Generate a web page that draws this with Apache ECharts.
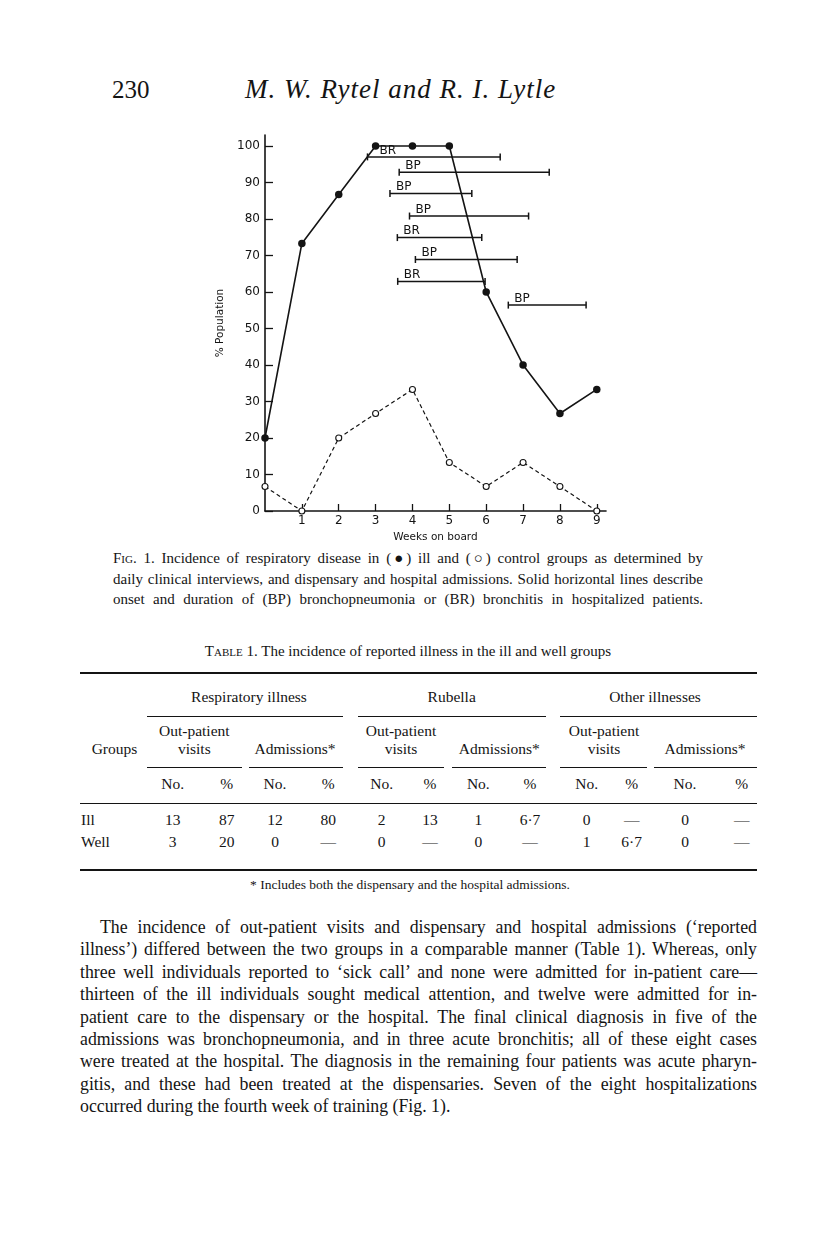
<!DOCTYPE html>
<html>
<head>
<meta charset="utf-8"/>
<title>Fig. 1 - respiratory disease</title>
<script src="https://cdn.jsdelivr.net/npm/echarts@6/dist/echarts.min.js"></script>
<style>
  body { margin: 0; background: #fff; }
  #page { position: relative; width: 816px; height: 1233px; font-family: "Liberation Serif", "DejaVu Serif", serif; color: #141414; overflow: hidden; }
  .abs { position: absolute; white-space: nowrap; }
  .line { position: absolute; text-align: justify; text-align-last: justify; white-space: nowrap; }
  .rule { position: absolute; background: #141414; }
  .sc { font-variant: small-caps; }
  .para { font-size: 17.8px; }
  #main { position: absolute; left: 180px; top: 120px; width: 460px; height: 430px; }
</style>
</head>
<body>
<div id="page">
  <div class="abs" style="left:112px;top:76px;font-size:25px;">230</div>
  <div class="abs" style="left:245px;top:74px;font-size:27px;font-style:italic;letter-spacing:1px;">M. W. Rytel and R. I. Lytle</div>

  <div id="main"></div>

  <!-- caption -->
  <div class="line" style="left:113px;top:550px;width:590px;font-size:15px;"><span class="sc">Fig.</span> 1. Incidence of respiratory disease in (●) ill and (○) control groups as determined by</div>
  <div class="line" style="left:113px;top:571px;width:590px;font-size:15px;">daily clinical interviews, and dispensary and hospital admissions. Solid horizontal lines describe</div>
  <div class="line" style="left:113px;top:591px;width:590px;font-size:15px;">onset and duration of (BP) bronchopneumonia or (BR) bronchitis in hospitalized patients.</div>

  <div class="abs" style="left:408px;top:643px;font-size:15px;transform:translateX(-50%);"><span class="sc">Table</span> 1. The incidence of reported illness in the ill and well groups</div>

  <div class="abs" style="left:410px;top:877px;font-size:13.5px;transform:translateX(-50%);">* Includes both the dispensary and the hospital admissions.</div>

  <!-- body text -->
  <div class="line para" style="left:100px;top:917px;width:657px;">The incidence of out-patient visits and dispensary and hospital admissions (‘reported</div>
  <div class="line para" style="left:80px;top:939px;width:677px;">illness’) differed between the two groups in a comparable manner (Table 1). Whereas, only</div>
  <div class="line para" style="left:80px;top:962px;width:677px;">three well individuals reported to ‘sick call’ and none were admitted for in-patient care—</div>
  <div class="line para" style="left:80px;top:984px;width:677px;">thirteen of the ill individuals sought medical attention, and twelve were admitted for in-</div>
  <div class="line para" style="left:80px;top:1007px;width:677px;">patient care to the dispensary or the hospital. The final clinical diagnosis in five of the</div>
  <div class="line para" style="left:80px;top:1029px;width:677px;">admissions was bronchopneumonia, and in three acute bronchitis; all of these eight cases</div>
  <div class="line para" style="left:80px;top:1051px;width:677px;">were treated at the hospital. The diagnosis in the remaining four patients was acute pharyn-</div>
  <div class="line para" style="left:80px;top:1074px;width:677px;">gitis, and these had been treated at the dispensaries. Seven of the eight hospitalizations</div>
  <div class="abs para" style="left:80px;top:1096px;">occurred during the fourth week of training (Fig. 1).</div>
</div>

<script type="text/javascript">
// weeks on board
var weeks = [0, 1, 2, 3, 4, 5, 6, 7, 8, 9];
// % population, ill group (filled dots)
var illPct = [20, 73.3, 86.7, 100, 100, 100, 60, 40, 26.7, 33.3];
// % population, control group (open dots)
var controlPct = [6.7, 0, 20, 26.7, 33.3, 13.3, 6.7, 13.3, 6.7, 0];

// hospitalized patients: onset / end (weeks), drawn at a row height (% scale)
var stayType = ['BR', 'BP', 'BP', 'BP', 'BR', 'BP', 'BR', 'BP'];
var stayStart = [2.78, 3.64, 3.39, 3.92, 3.59, 4.08, 3.6, 6.6];
var stayEnd = [6.38, 7.71, 5.61, 7.15, 5.88, 6.84, 5.97, 8.71];
var stayRow = [97, 92.8, 87, 80.8, 74.9, 68.9, 62.9, 56.4];

var yTicks = [0, 10, 20, 30, 40, 50, 60, 70, 80, 90, 100];
var xTicks = [1, 2, 3, 4, 5, 6, 7, 8, 9];

// table 1
var tableCols = [172.7, 226.7, 275, 328.3, 381.7, 430, 478.3, 530, 586.7, 631.7, 685, 741.7];
var illRow = ['13', '87', '12', '80', '2', '13', '1', '6·7', '0', '—', '0', '—'];
var wellRow = ['3', '20', '0', '—', '0', '—', '0', '—', '1', '6·7', '0', '—'];

var ink = '#141414';
var axisFont = '"DejaVu Sans", sans-serif';

var myChart = echarts.init(document.getElementById('main'));

var option = {
    animation: false,
    grid: { left: 85, right: 34, top: 15, bottom: 39 },
    xAxis: {
        type: 'value',
        min: 0,
        max: 9.25,
        interval: 1,
        name: 'Weeks on board',
        nameLocation: 'middle',
        nameGap: 20,
        nameTextStyle: { color: ink, fontSize: 10.5, fontFamily: axisFont },
        axisLine: { lineStyle: { color: ink, width: 1.6 } },
        axisTick: { inside: true, length: 7, customValues: xTicks, lineStyle: { color: ink, width: 1.3 } },
        axisLabel: { customValues: xTicks, margin: 4, color: ink, fontSize: 12, fontFamily: axisFont },
        splitLine: { show: false }
    },
    yAxis: {
        type: 'value',
        min: 0,
        max: 103,
        interval: 10,
        name: '% Population',
        nameLocation: 'middle',
        nameRotate: 90,
        nameGap: 27,
        nameTextStyle: { color: ink, fontSize: 10.5, fontFamily: axisFont },
        axisLine: { lineStyle: { color: ink, width: 1.6 } },
        axisTick: { inside: true, length: 8, customValues: yTicks, lineStyle: { color: ink, width: 1.3 } },
        axisLabel: { customValues: yTicks, margin: 5, color: ink, fontSize: 12, fontFamily: axisFont },
        splitLine: { show: false }
    },
    series: [
        {
            name: 'ill',
            type: 'line',
            clip: false,
            z: 5,
            data: weeks.map(function (w, i) { return [w, illPct[i]]; }),
            symbol: 'circle',
            symbolSize: 7.5,
            itemStyle: { color: ink },
            lineStyle: { color: ink, width: 1.6 }
        },
        {
            name: 'control',
            type: 'line',
            clip: false,
            z: 4,
            data: weeks.map(function (w, i) { return [w, controlPct[i]]; }),
            symbol: 'circle',
            symbolSize: 6,
            itemStyle: { color: '#fff', borderColor: ink, borderWidth: 1.1 },
            lineStyle: { color: ink, width: 1.2, type: [4, 3] }
        },
        {
            name: 'hospital',
            type: 'custom',
            clip: false,
            z: 3,
            encode: { x: [0, 1], y: 2 },
            data: stayType.map(function (t, i) { return [stayStart[i], stayEnd[i], stayRow[i]]; }),
            renderItem: function (params, api) {
                var s = api.coord([api.value(0), api.value(2)]);
                var e = api.coord([api.value(1), api.value(2)]);
                var st = { stroke: ink, lineWidth: 1.5 };
                // first BR label sits clear of the rising ill line
                var dx = params.dataIndex === 0 ? 12 : 6;
                return {
                    type: 'group',
                    children: [
                        { type: 'line', shape: { x1: s[0], y1: s[1], x2: e[0], y2: e[1] }, style: st },
                        { type: 'line', shape: { x1: s[0], y1: s[1] - 3.5, x2: s[0], y2: s[1] + 3.5 }, style: st },
                        { type: 'line', shape: { x1: e[0], y1: e[1] - 3.5, x2: e[0], y2: e[1] + 3.5 }, style: st },
                        {
                            type: 'text',
                            x: s[0] + dx,
                            y: s[1] - 0.5,
                            style: {
                                text: stayType[params.dataIndex],
                                fill: ink,
                                font: '12px ' + axisFont,
                                verticalAlign: 'bottom',
                                align: 'left'
                            }
                        }
                    ]
                };
            }
        }
    ]
};

myChart.setOption(option);

// ---- table 1 (plain html) ----
var pg = document.getElementById('page');
function put(txt, cx, cy, size) {
    var d = document.createElement('div');
    d.className = 'abs';
    d.style.left = cx + 'px';
    d.style.top = cy + 'px';
    d.style.fontSize = (size || 15.5) + 'px';
    d.style.transform = 'translate(-50%,-50%)';
    d.textContent = txt;
    pg.appendChild(d);
}
function rule(x1, x2, y, h) {
    var d = document.createElement('div');
    d.className = 'rule';
    d.style.left = x1 + 'px';
    d.style.width = (x2 - x1) + 'px';
    d.style.top = y + 'px';
    d.style.height = h + 'px';
    pg.appendChild(d);
}
rule(80, 757, 672, 2);
rule(146.7, 342.7, 715.5, 1);
rule(357.7, 545.7, 715.5, 1);
rule(560, 757, 715.5, 1);
[[146.7, 241.7], [249, 342.7], [357.7, 444.3], [451.7, 545.7], [560, 646.7], [654.3, 757]].forEach(function (r) {
    rule(r[0], r[1], 767, 1);
});
rule(80, 757, 802.5, 1.2);
rule(80, 757, 869, 2);

put('Respiratory illness', 249, 697);
put('Rubella', 451.7, 697);
put('Other illnesses', 655, 697);
[194.3, 401, 604].forEach(function (x) { put('Out-patient', x, 731); put('visits', x, 748.5); });
[295, 499.3, 705].forEach(function (x) { put('Admissions*', x, 748.5); });
put('Groups', 114.5, 748.5);
tableCols.forEach(function (x, i) {
    put(i % 2 === 0 ? 'No.' : '%', x, 784);
    put(illRow[i], x, 820);
    put(wellRow[i], x, 841.5);
});
var lbl = document.createElement('div');
lbl.className = 'abs';
lbl.style.cssText = 'left:81px;top:809px;font-size:15.5px;line-height:21.5px;';
lbl.innerHTML = 'Ill<br>Well';
pg.appendChild(lbl);
</script>
</body>
</html>
